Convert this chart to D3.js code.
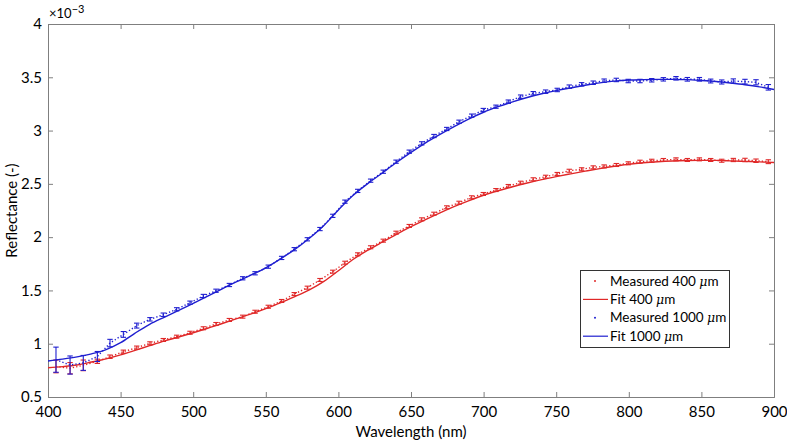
<!DOCTYPE html>
<html><head><meta charset="utf-8">
<script src="https://cdn.jsdelivr.net/npm/d3@7"></script>
<style>
html,body{margin:0;padding:0;background:#fff;}
svg{display:block;font-family:Lato,"Open Sans",sans-serif;}
</style></head>
<body>
<svg id="chart" width="787" height="443"></svg>
<script>
// ---- data (reflectance in units of 1e-3) ----
const measWavelength = [405.5,415.2,424.3,434,442.7,451.9,461.1,470.2,479.4,488.6,497.8,507,515.7,524.9,
  534.1,542.6,551.7,560.9,569.6,578.6,587.3,596.1,604.5,613.3,622.2,630.9,639.7,648.8,657.4,
  665.8,674.6,683.1,691.8,699.8,708.5,717,725.5,734.2,742.7,750.7,759,767.5,775.5,783,791.4,
  799.6,807.7,815.8,823.8,832.5,840.3,848.6,856.4,864,872,880,887.6,896.1];
const meas400 = [0.787,0.77,0.797,0.835,0.878,0.925,0.963,1.004,1.035,1.066,1.103,1.145,1.185,1.223,
  1.254,1.300,1.347,1.401,1.466,1.526,1.598,1.676,1.760,1.839,1.905,1.967,2.042,2.105,2.167,
  2.22,2.280,2.323,2.374,2.405,2.442,2.480,2.511,2.543,2.567,2.593,2.623,2.637,2.655,2.664,2.677,
  2.693,2.708,2.717,2.724,2.730,2.724,2.730,2.724,2.717,2.724,2.724,2.717,2.708];
const err400 = [0.06,0.053,0.05,0.02,0.016,0.015,0.015,0.014,0.014,0.014,0.014,0.014,0.014,0.014,
  0.014,0.014,0.014,0.014,0.014,0.014,0.014,0.014,0.014,0.014,0.014,0.014,0.014,0.014,0.014,
  0.014,0.014,0.014,0.014,0.014,0.014,0.014,0.014,0.014,0.014,0.014,0.014,0.014,0.014,0.014,0.014,
  0.014,0.014,0.014,0.014,0.014,0.014,0.014,0.014,0.014,0.015,0.016,0.016,0.018];
const meas1000 = [0.85,0.80,0.82,0.88,1.006,1.087,1.17,1.229,1.272,1.323,1.385,1.448,1.497,1.551,
  1.614,1.661,1.723,1.805,1.887,1.980,2.076,2.200,2.333,2.434,2.530,2.614,2.708,2.802,2.880,
  2.949,3.015,3.083,3.140,3.193,3.224,3.271,3.318,3.350,3.365,3.381,3.412,3.434,3.449,3.468,3.475,
  3.465,3.465,3.472,3.481,3.491,3.481,3.481,3.465,3.456,3.465,3.459,3.453,3.406];
const err1000 = [0.118,0.085,0.07,0.047,0.035,0.027,0.023,0.016,0.016,0.015,0.015,0.015,0.015,0.015,
  0.015,0.015,0.015,0.015,0.015,0.015,0.015,0.015,0.015,0.015,0.015,0.015,0.015,0.015,0.015,
  0.015,0.015,0.015,0.015,0.015,0.015,0.016,0.016,0.016,0.016,0.016,0.016,0.016,0.016,0.016,0.016,
  0.016,0.016,0.016,0.016,0.016,0.017,0.017,0.018,0.019,0.02,0.022,0.024,0.026];
const fitWavelength = [400,410,420,430,440,450,460,470,480,490,500,510,520,530,540,550,560,570,580,590,
  600,610,620,630,640,650,660,670,680,690,700,710,720,730,740,750,760,770,780,790,
  800,810,820,830,840,850,860,870,880,890,900];
const fit400 = [0.775,0.785,0.80,0.828,0.858,0.895,0.938,0.982,1.025,1.063,1.103,1.145,1.19,1.235,1.28,1.33,1.383,1.442,1.505,1.585,
  1.685,1.79,1.875,1.952,2.027,2.098,2.165,2.228,2.288,2.343,2.393,2.435,2.473,2.508,2.54,2.568,2.594,2.619,2.643,2.665,
  2.684,2.698,2.708,2.715,2.719,2.72,2.72,2.716,2.711,2.706,2.70];
const fit1000 = [0.838,0.855,0.876,0.905,0.945,1.01,1.10,1.182,1.248,1.312,1.378,1.447,1.515,1.582,1.645,1.712,1.795,1.885,1.99,2.11,
  2.255,2.39,2.50,2.60,2.70,2.795,2.885,2.965,3.04,3.11,3.172,3.224,3.27,3.31,3.345,3.375,3.40,3.425,3.448,3.464,
  3.474,3.478,3.48,3.48,3.478,3.47,3.46,3.446,3.43,3.41,3.385];
const xTicks = [400,450,500,550,600,650,700,750,800,850,900];
const yTicks = [0.5,1,1.5,2,2.5,3,3.5,4];
const seriesNames = ["Measured 400 \u03bcm","Fit 400 \u03bcm","Measured 1000 \u03bcm","Fit 1000 \u03bcm"];
const xLabel = "Wavelength (nm)";
const yLabel = "Reflectance (-)";

// ---- layout ----
const svg = d3.select("#chart");
const L = 48, T = 24, W = 726, H = 373;
const RED = "#e02828", BLUE = "#1f1fd0", AX = "#7f7f7f";
const x = d3.scaleLinear().domain([400,900]).range([L, L+W]);
const y = d3.scaleLinear().domain([0.5,4]).range([T+H, T]);

const g = svg.append("g");

// axes
const fontSize = 15;
const axBottom = g.append("g").attr("transform",`translate(0,${T+H})`)
  .call(d3.axisBottom(x).tickValues(xTicks).tickSize(-5).tickPadding(9).tickFormat(d3.format("d")));
const axTop = g.append("g").attr("transform",`translate(0,${T})`)
  .call(d3.axisTop(x).tickValues(xTicks).tickSize(-5).tickFormat(""));
const axLeft = g.append("g").attr("transform",`translate(${L},0)`)
  .call(d3.axisLeft(y).tickValues(yTicks).tickSize(-5).tickPadding(6).tickFormat(d => String(d)));
const axRight = g.append("g").attr("transform",`translate(${L+W},0)`)
  .call(d3.axisRight(y).tickValues(yTicks).tickSize(-5).tickFormat(""));
[axBottom, axTop, axLeft, axRight].forEach(a => {
  a.selectAll("path.domain").attr("stroke", AX).attr("stroke-width", 1);
  a.selectAll(".tick line").attr("stroke", AX);
  a.selectAll("text").attr("font-size", fontSize).attr("fill", "#000").attr("font-family","Lato, 'Open Sans', sans-serif");
});

// exponent
const ex = g.append("text").attr("x", L + 1).attr("y", 18).attr("font-size", 13).attr("fill", "#000");
ex.append("tspan").text("\u00d710");
ex.append("tspan").attr("dy", -5).attr("font-size", 11).text("\u22123");

// labels
g.append("text").attr("x", L + W/2).attr("y", 437).attr("text-anchor","middle")
  .attr("font-size", 15).attr("fill","#000").text(xLabel);
g.append("text").attr("transform", `translate(17,${T+H/2}) rotate(-90)`).attr("text-anchor","middle")
  .attr("font-size", 15).attr("fill","#000").text(yLabel);

// plotting
const plot = g.append("g");
function drawMeasured(vals, errs, color) {
  const pts = measWavelength.map((w,i) => ({w, v: vals[i], e: errs[i]}));
  plot.append("path").datum(pts)
    .attr("d", d3.line().x(d => x(d.w)).y(d => y(d.v)))
    .attr("fill","none").attr("stroke", color).attr("stroke-width", 1.4)
    .attr("stroke-dasharray","1.3,2.1");
  const eb = plot.append("g").attr("stroke", color).attr("stroke-width", 1.1);
  pts.forEach(d => {
    const cx = x(d.w), y1 = y(d.v + d.e), y2 = y(d.v - d.e);
    eb.append("line").attr("x1", cx).attr("x2", cx).attr("y1", y1).attr("y2", y2);
    eb.append("line").attr("x1", cx-2.7).attr("x2", cx+2.7).attr("y1", y1).attr("y2", y1);
    eb.append("line").attr("x1", cx-2.7).attr("x2", cx+2.7).attr("y1", y2).attr("y2", y2);
  });
}
function drawFit(vals, color) {
  const pts = fitWavelength.map((w,i) => ({w, v: vals[i]}));
  plot.append("path").datum(pts)
    .attr("d", d3.line().curve(d3.curveCatmullRom.alpha(0.5)).x(d => x(d.w)).y(d => y(d.v)))
    .attr("fill","none").attr("stroke", color).attr("stroke-width", 1.4);
}
drawMeasured(meas400, err400, RED);
drawFit(fit400, RED);
drawMeasured(meas1000, err1000, BLUE);
drawFit(fit1000, BLUE);

// legend
const lg = g.append("g").attr("transform","translate(580,270)");
lg.append("rect").attr("x",0.5).attr("y",0.5).attr("width",149).attr("height",77)
  .attr("fill","#fff").attr("stroke","#333").attr("stroke-width",1);
const colors = [RED, RED, BLUE, BLUE];
seriesNames.forEach((name, i) => {
  const cy = 11 + i * 18.4;
  if (i % 2 === 0) {
    lg.append("circle").attr("cx", 15).attr("cy", cy).attr("r", 1).attr("fill", colors[i]);
  } else {
    lg.append("line").attr("x1", 3).attr("x2", 28).attr("y1", cy).attr("y2", cy)
      .attr("stroke", colors[i]).attr("stroke-width", 1.2);
  }
  const parts = name.split("\u03bcm");
  const t = lg.append("text").attr("x", 30).attr("y", cy + 4.5).attr("font-size", 13.5).attr("fill","#000");
  t.append("tspan").text(parts[0]);
  t.append("tspan").attr("font-style","italic").attr("font-family","'DejaVu Serif', serif").attr("font-size",12.5).text("\u03bc");
  t.append("tspan").text("m");
});
</script>
</body></html>
